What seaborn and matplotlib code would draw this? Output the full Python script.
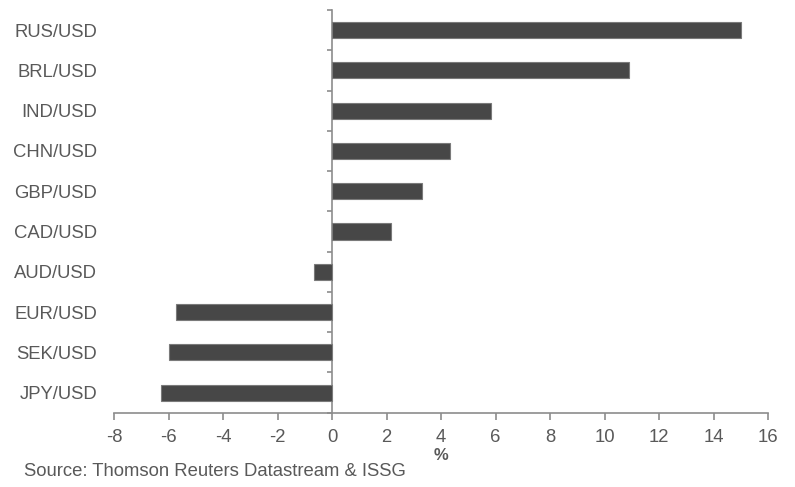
import numpy as np
import pandas as pd
import matplotlib
matplotlib.use("Agg")
import matplotlib.pyplot as plt
import seaborn as sns

# ---------------- data ----------------
pairs = ["RUS/USD", "BRL/USD", "IND/USD", "CHN/USD", "GBP/USD",
         "CAD/USD", "AUD/USD", "EUR/USD", "SEK/USD", "JPY/USD"]
change_pct = [15.0, 10.9, 5.83, 4.33, 3.29, 2.15, -0.67, -5.72, -5.97, -6.26]
x_ticks = list(range(-8, 17, 2))
source_note = "Source: Thomson Reuters Datastream & ISSG"

df = pd.DataFrame({"pair": pairs, "change": change_pct})

# ---------------- style ----------------
sns.set_style("white")
plt.rcParams["font.family"] = ["Liberation Sans", "DejaVu Sans"]
TEXT = "#595959"
AXIS = "#8c8c8c"
BAR = "#474747"

fig = plt.figure(figsize=(7.95, 4.87), dpi=100)
ax = fig.add_axes([114/795, 1 - 412.7/487, (768 - 114)/795, (412.7 - 10)/487])

sns.barplot(data=df, x="change", y="pair", order=pairs, orient="h",
            color=BAR, width=0.4, saturation=1, edgecolor="#7a7a7a",
            linewidth=0.8, ax=ax)

ax.set_xlim(-8, 16)
ax.set_ylim(len(pairs) - 0.5, -0.5)
ax.set_xticks(x_ticks)
ax.set_xticklabels([str(t) for t in x_ticks])

for s in ["top", "right", "left"]:
    ax.spines[s].set_visible(False)
ax.spines["bottom"].set_color(AXIS)
ax.spines["bottom"].set_linewidth(1.2)

ax.tick_params(axis="x", bottom=True, direction="out", length=5, width=1.2,
               color=AXIS, labelsize=13.3, labelcolor=TEXT, pad=7)
ax.tick_params(axis="y", left=False, length=0, labelsize=13.3,
               labelcolor=TEXT, pad=12)
ax.set_ylabel("")
ax.set_xlabel("%", fontsize=12, fontweight="bold", color=TEXT, labelpad=1)

# zero line with category separator ticks
zero_ax = ax.secondary_yaxis(8 / 24)
zero_ax.spines["left"].set_color(AXIS)
zero_ax.spines["left"].set_linewidth(1.2)
zero_ax.set_yticks(np.arange(-0.5, len(pairs), 1.0))
zero_ax.set_yticklabels([])
zero_ax.tick_params(axis="y", left=True, direction="out", length=3.5,
                    width=1.2, color=AXIS)

fig.text(24/795, 1 - 471/487, source_note, fontsize=13.3, color=TEXT,
         ha="left", va="center")

fig.savefig("out.png", dpi=100)
